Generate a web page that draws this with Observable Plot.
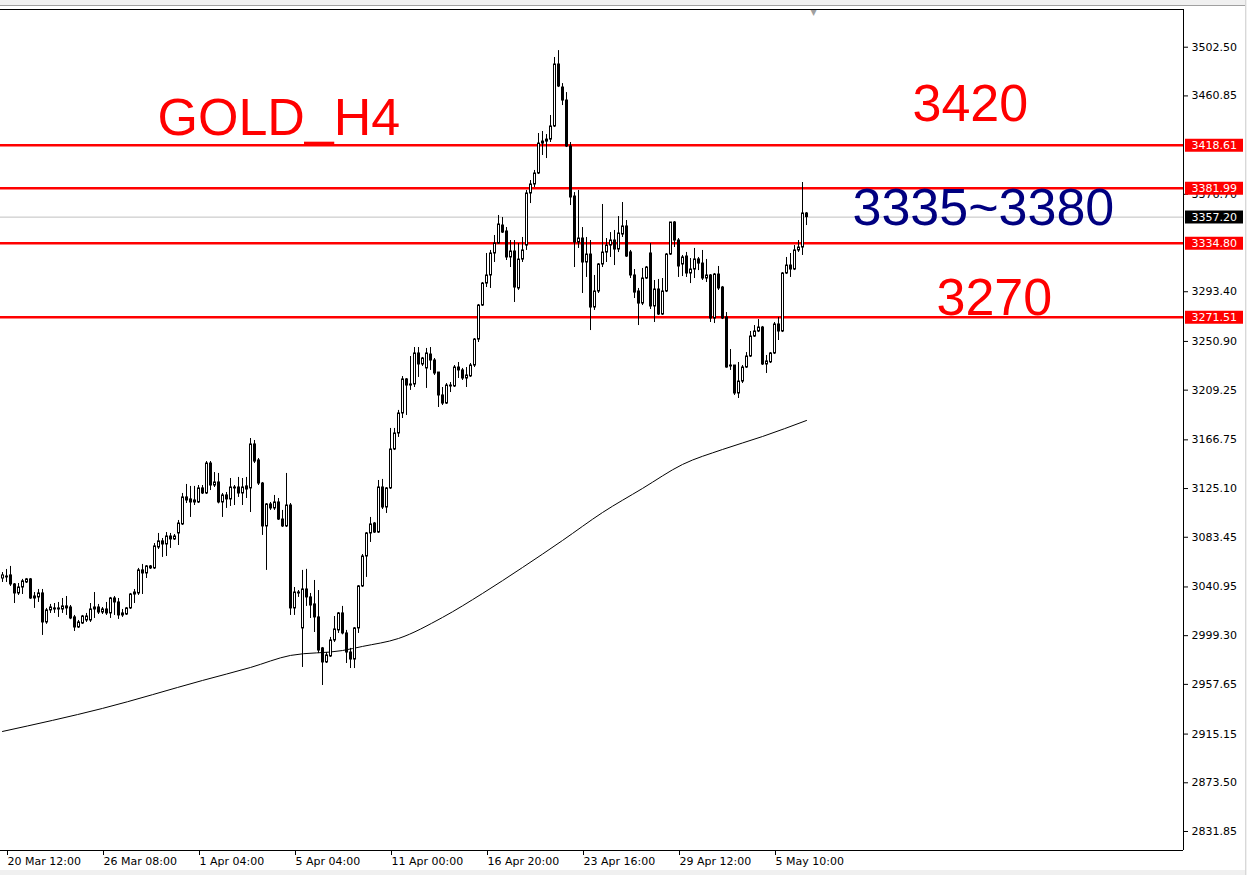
<!DOCTYPE html>
<html>
<head>
<meta charset="utf-8">
<script src="https://cdn.jsdelivr.net/npm/d3@7"></script>
<script src="https://cdn.jsdelivr.net/npm/@observablehq/plot@0.6"></script>
<style>
html, body { margin: 0; padding: 0; background: #fff; overflow: hidden; }
#wrap { position: relative; width: 1247px; height: 875px; }
#topbar { position: absolute; left: 0; top: 0; width: 1247px; height: 5px; background: #f0f0f0; border-bottom: 1px solid #a0a0a0; }
#botbar { position: absolute; left: 0; top: 870px; width: 1247px; height: 5px; background: #f0f0f0; }
#rightbar { position: absolute; left: 1245px; top: 0; width: 2px; height: 875px; background: #f0f0f0; border-left: 1px solid #d8d8d8; }
#chart { position: absolute; left: 0; top: 0; }
</style>
</head>
<body>
<div id="wrap"><div id="topbar"></div><div id="botbar"></div><div id="rightbar"></div><div id="chart"></div></div>
<script>
// ---- Data: GOLD H4 candles (bar index 0..201) ----
const opens = [3048.2,3049.1,3050.8,3043.1,3035.4,3040.5,3044.8,3047.4,3031.1,3032.0,
3035.4,3010.6,3020.9,3022.6,3021.7,3021.7,3024.3,3023.4,3014.9,3006.3,
3009.7,3012.3,3012.3,3021.7,3023.4,3019.1,3021.7,3018.3,3031.1,3027.7,
3018.3,3017.4,3022.6,3034.5,3035.4,3055.1,3052.5,3058.5,3056.8,3074.7,
3079.9,3077.3,3084.1,3081.6,3086.7,3094.4,3117.5,3115.8,3113.2,3113.2,
3125.2,3120.9,3146.5,3127.7,3130.3,3113.2,3119.2,3115.8,3125.2,3126.0,
3120.9,3126.9,3125.2,3162.8,3149.1,3129.4,3092.7,3111.5,3108.1,3113.2,
3098.6,3092.7,3110.6,3022.6,3036.2,3005.5,3038.8,3032.0,3026.0,3014.9,
2988.4,2976.4,2981.5,2995.2,3003.8,3018.3,3001.2,2984.9,2978.9,3005.5,
3041.4,3067.0,3086.7,3095.2,3087.5,3126.0,3108.9,3125.2,3158.5,3172.2,
3189.3,3218.4,3213.2,3214.1,3240.6,3231.2,3227.8,3239.7,3234.6,3224.3,
3204.7,3197.8,3212.4,3212.4,3228.6,3226.1,3219.2,3221.0,3230.3,3252.5,
3281.6,3300.4,3307.3,3326.1,3334.6,3350.0,3344.9,3322.7,3327.8,3296.2,
3320.9,3332.9,3377.4,3385.1,3394.5,3420.1,3423.5,3423.5,3434.7,3487.7,
3468.0,3456.9,3417.6,3374.8,3335.5,3338.9,3318.4,3325.2,3279.9,3293.6,
3316.7,3326.9,3332.9,3337.2,3329.5,3342.3,3349.2,3327.0,3307.3,3293.6,
3283.3,3304.7,3326.1,3280.8,3295.3,3273.9,3293.6,3325.2,3352.6,3337.2,
3316.7,3323.5,3309.0,3312.4,3321.0,3317.5,3304.7,3307.3,3270.5,3308.1,
3297.0,3271.4,3229.5,3230.3,3206.4,3216.6,3228.6,3238.0,3255.1,3259.4,
3262.8,3231.2,3233.0,3240.6,3265.4,3259.4,3309.0,3315.8,3312.4,3328.7,
3331.2,3360.3];
const highs = [3053.3,3055.9,3058.5,3043.9,3043.9,3047.4,3048.2,3048.2,3036.2,3038.8,
3038.8,3022.6,3026.0,3026.8,3027.7,3031.1,3032.8,3025.1,3016.6,3012.3,
3016.6,3018.3,3026.8,3036.2,3026.0,3023.4,3027.7,3032.0,3032.8,3031.1,
3021.7,3023.4,3035.4,3038.8,3056.8,3060.2,3059.3,3059.3,3078.1,3086.7,
3082.4,3087.5,3086.7,3085.8,3097.8,3120.9,3128.6,3126.9,3126.9,3127.7,
3127.7,3148.2,3148.2,3138.8,3138.0,3120.9,3121.7,3133.7,3127.7,3134.6,
3133.7,3134.6,3167.9,3166.2,3150.8,3130.3,3112.3,3113.2,3119.2,3116.6,
3106.4,3138.0,3112.3,3040.5,3037.9,3055.1,3056.0,3035.4,3046.5,3037.9,
2989.2,2984.9,2997.8,3015.7,3019.1,3024.3,3003.8,2988.4,3006.3,3042.2,
3068.7,3087.5,3100.4,3096.1,3132.0,3132.9,3126.0,3176.5,3176.5,3191.9,
3220.9,3219.2,3238.0,3245.7,3245.7,3237.2,3244.9,3245.7,3236.3,3224.3,
3211.5,3214.9,3215.8,3230.3,3232.9,3227.8,3228.6,3232.0,3253.4,3282.5,
3301.3,3326.1,3328.7,3341.5,3358.6,3356.9,3348.3,3337.2,3337.2,3334.6,
3339.8,3380.0,3388.5,3397.1,3428.7,3430.4,3427.8,3444.1,3493.7,3499.6,
3471.4,3463.7,3421.0,3378.2,3380.0,3348.3,3339.8,3337.2,3307.3,3317.5,
3368.0,3338.9,3344.0,3345.8,3357.7,3369.7,3354.3,3328.7,3312.4,3296.2,
3313.3,3315.0,3334.6,3303.0,3303.9,3304.7,3326.1,3352.6,3353.4,3338.9,
3324.4,3327.0,3321.8,3330.4,3322.7,3328.7,3321.0,3308.1,3309.0,3315.0,
3297.9,3275.6,3244.0,3230.3,3232.9,3230.3,3241.4,3259.4,3264.5,3269.6,
3263.7,3238.9,3241.4,3267.1,3271.4,3309.8,3322.7,3326.1,3332.9,3337.2,
3386.8,3361.1];
const lows = [3044.8,3044.8,3041.4,3026.8,3033.7,3034.5,3043.9,3030.3,3022.6,3027.7,
2999.5,3009.0,3018.3,3018.3,3014.9,3018.3,3016.6,3013.0,3002.9,3005.5,
3008.9,3010.6,3010.6,3014.0,3017.4,3017.4,3016.6,3014.0,3016.6,3013.2,
3014.9,3016.6,3021.7,3026.8,3033.7,3034.5,3048.2,3055.9,3055.9,3073.0,
3066.2,3067.0,3073.9,3080.7,3076.4,3093.5,3112.3,3100.4,3110.6,3112.3,
3120.0,3120.0,3123.4,3126.0,3112.0,3100.4,3108.1,3109.8,3110.6,3117.5,
3110.6,3116.6,3104.6,3146.5,3127.7,3085.0,3055.1,3106.4,3106.4,3097.8,
3091.8,3091.8,3016.6,3016.6,3032.0,2972.1,3024.3,3014.0,3002.0,2984.0,
2956.7,2975.5,2980.7,2993.5,3001.2,3000.0,2975.5,2971.2,2971.2,3001.2,
3040.5,3049.1,3079.0,3086.7,3086.7,3107.2,3103.8,3124.3,3157.6,3168.8,
3185.0,3187.6,3209.0,3211.5,3220.1,3229.5,3210.7,3226.1,3221.8,3194.4,
3196.1,3197.0,3207.2,3211.5,3219.2,3217.5,3211.5,3220.1,3228.6,3250.0,
3280.8,3297.0,3296.2,3318.4,3334.0,3343.2,3320.1,3314.1,3284.2,3294.5,
3318.4,3328.7,3368.8,3382.5,3393.6,3409.9,3407.3,3421.0,3433.8,3468.0,
3452.6,3416.7,3367.1,3314.1,3330.4,3291.9,3305.6,3260.2,3277.4,3291.9,
3314.1,3318.4,3322.7,3315.8,3326.9,3339.8,3322.7,3304.7,3287.6,3264.5,
3281.6,3303.9,3278.2,3267.1,3273.1,3273.1,3292.7,3324.4,3331.2,3305.6,
3306.4,3305.6,3300.4,3304.7,3311.5,3303.0,3301.3,3267.1,3266.2,3294.5,
3269.6,3228.0,3226.1,3204.7,3202.1,3214.9,3227.8,3237.2,3254.3,3258.5,
3230.3,3223.5,3232.0,3239.7,3251.7,3258.5,3308.1,3305.6,3311.5,3327.0,
3324.4,3350.0];
const closes = [3050.8,3049.9,3043.1,3035.4,3040.5,3045.7,3047.4,3031.1,3032.8,3035.4,
3010.6,3020.9,3023.4,3021.7,3022.6,3024.3,3022.6,3014.0,3006.3,3010.6,
3015.7,3015.7,3021.7,3023.4,3019.1,3021.7,3018.3,3031.1,3027.7,3016.6,
3016.6,3022.6,3034.5,3036.2,3055.1,3052.5,3058.5,3056.8,3075.6,3079.9,
3077.3,3084.1,3081.6,3084.1,3095.2,3117.5,3114.9,3113.2,3114.9,3125.2,
3120.9,3146.5,3127.7,3130.3,3113.2,3119.2,3115.8,3126.0,3126.0,3120.9,
3126.0,3124.3,3162.8,3148.2,3129.4,3092.7,3111.5,3108.1,3113.2,3098.6,
3092.7,3110.6,3022.6,3036.2,3035.4,3038.8,3032.0,3025.1,3014.9,2986.6,
2976.4,2982.4,2995.2,3004.6,3018.3,3001.2,2984.9,2978.9,3005.5,3041.4,
3067.0,3086.7,3094.4,3087.5,3126.0,3108.9,3125.2,3158.5,3172.2,3189.3,
3218.4,3213.2,3214.1,3240.6,3231.2,3236.3,3240.6,3234.6,3223.5,3204.7,
3197.8,3213.2,3213.2,3228.6,3226.1,3219.2,3221.8,3230.3,3252.5,3281.6,
3300.4,3307.3,3326.1,3334.6,3350.9,3344.0,3322.7,3327.8,3297.0,3320.9,
3328.7,3377.4,3385.1,3394.5,3420.1,3421.8,3421.8,3434.7,3487.7,3468.9,
3456.9,3417.6,3374.0,3335.5,3338.9,3318.4,3325.2,3279.9,3293.6,3316.7,
3326.9,3332.9,3337.2,3329.5,3343.2,3349.2,3323.5,3307.3,3292.7,3283.3,
3304.7,3314.1,3280.8,3295.3,3273.9,3293.6,3325.2,3352.6,3337.2,3315.0,
3322.7,3309.0,3312.4,3321.0,3317.5,3304.7,3307.3,3270.5,3308.1,3296.2,
3270.5,3228.6,3230.3,3206.4,3216.6,3228.6,3238.0,3255.1,3259.4,3262.8,
3231.2,3233.8,3240.6,3265.4,3259.4,3309.0,3315.8,3312.4,3328.7,3331.2,
3360.3,3357.2];

// moving average read at a few bars
const maBars =   [0, 25, 50, 62, 72, 85, 90, 99, 110, 120, 130, 140, 150, 160, 170, 180, 190, 201];
const maValues = [2917.4, 2937.1, 2961.0, 2972.1, 2982.4, 2986.6, 2990.1, 2996.9, 3014.9, 3035.4,
                  3057.6, 3080.7, 3104.6, 3125.2, 3145.7, 3158.5, 3169.6, 3183.3];

// horizontal levels
const levelLines = [3418.61, 3381.99, 3334.80, 3271.51];
const bidPrice = 3357.20;

// axis ticks
const yTicks = [3502.50, 3460.85, 3376.70, 3293.40, 3250.90, 3209.25, 3166.75, 3125.10,
                3083.45, 3040.95, 2999.30, 2957.65, 2915.15, 2873.50, 2831.85];
const xTickBars = [1, 25, 49, 73, 97, 121, 145, 169, 193];
const xTickLabels = ["20 Mar 12:00", "26 Mar 08:00", "1 Apr 04:00", "5 Apr 04:00", "11 Apr 00:00",
                     "16 Apr 20:00", "23 Apr 16:00", "29 Apr 12:00", "5 May 10:00"];

// annotations
const noteTexts  = ["GOLD_H4", "3420", "3335~3380", "3270"];
const noteBars   = [38.75, 227.5, 212.5, 233.5];
const notePrices = [3441.5, 3453.5, 3364.6, 3287.6];
const noteColors = ["#ff0000", "#ff0000", "#000080", "#ff0000"];

// ---- build ----
const xDomain = [-0.5, 295.25];
const yDomain = [2815.6, 3534.74];
const barPx = 4;
const bars = opens.map((o, i) => ({i, o, h: highs[i], l: lows[i], c: closes[i]}));
const ups = bars.filter(d => d.c >= d.o);
const downs = bars.filter(d => d.c < d.o);
const ma = maBars.map((b, j) => ({b, v: maValues[j]}));
const notes = noteTexts.map((t, j) => ({t, b: noteBars[j], p: notePrices[j], c: noteColors[j]}));
const xLabelOf = new Map(xTickBars.map((b, j) => [b, xTickLabels[j]]));
const xMax = xDomain[1];
const boxL = xMax + 2 / barPx, boxR = xMax + 60 / barPx;

const chart = Plot.plot({
  width: 1247,
  height: 875,
  marginLeft: 0,
  marginRight: 64,
  marginTop: 9,
  marginBottom: 25,
  x: {domain: xDomain, axis: null},
  y: {domain: yDomain, axis: null},
  style: {fontFamily: "DejaVu Sans", fontSize: "11px", color: "black", background: "transparent", overflow: "visible"},
  marks: [
    Plot.ruleY([bidPrice], {stroke: "#c0c0c0", strokeWidth: 1}),
    Plot.line(ma, {x: "b", y: "v", stroke: "black", strokeWidth: 1, curve: "monotone-x"}),
    Plot.ruleY(levelLines, {stroke: "#ff0000", strokeWidth: 2.5}),
    Plot.ruleX(bars, {x: "i", y1: "l", y2: "h", stroke: "black", strokeWidth: 1}),
    Plot.rect(ups, {x1: d => d.i - 0.25, x2: d => d.i + 0.25, y1: "o", y2: "c", dx: 0.5, fill: "white", stroke: "black", strokeWidth: 1}),
    Plot.rect(downs, {x1: d => d.i - 0.25, x2: d => d.i + 0.25, y1: "o", y2: "c", dx: 0.5, fill: "black", stroke: "black", strokeWidth: 1}),
    Plot.text([{t: "\u25BC"}], {x: () => bars.length + 0.75, frameAnchor: "top", text: "t", fill: "#a0a0a0", fontSize: 8, lineAnchor: "top", dy: 0}),
    Plot.ruleX([xMax], {stroke: "black", strokeWidth: 1}),
    Plot.ruleY([yDomain[0]], {stroke: "black", strokeWidth: 1}),
    Plot.ruleY([yDomain[1]], {stroke: "black", strokeWidth: 1}),
    Plot.axisY(yTicks, {anchor: "right", tickSize: 4, tickPadding: 4, tickFormat: d => d.toFixed(2), fontSize: 11}),
    Plot.axisX(xTickBars, {anchor: "bottom", tickSize: 5, tickPadding: 2, textAnchor: "start", dx: 1, fontSize: 11, tickFormat: d => xLabelOf.get(d)}),
    Plot.ruleY(levelLines, {x1: boxL, x2: boxR, stroke: "#ff0000", strokeWidth: 13}),
    Plot.ruleY([bidPrice], {x1: boxL, x2: boxR, stroke: "black", strokeWidth: 13}),
    Plot.text(levelLines, {x: xMax, y: d => d, text: d => d.toFixed(2), dx: 8, textAnchor: "start", fill: "white", fontSize: 11}),
    Plot.text([bidPrice], {x: xMax, y: d => d, text: d => d.toFixed(2), dx: 8, textAnchor: "start", fill: "white", fontSize: 11}),
    Plot.text(notes, {x: "b", y: "p", text: "t", fill: "c", textAnchor: "start", lineAnchor: "middle", fontFamily: "Liberation Sans", fontSize: 52})
  ]
});
document.getElementById("chart").appendChild(chart);
</script>
</body>
</html>
